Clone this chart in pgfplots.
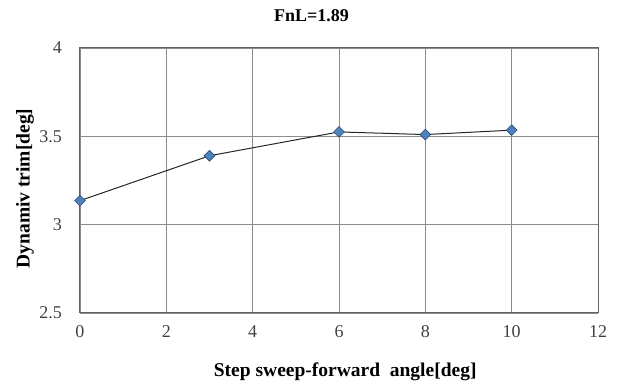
\documentclass[border=0pt]{standalone}
\usepackage{pgfplots}
\pgfplotsset{compat=1.18}
\usepackage{fontspec}
\setmainfont{Liberation Serif}
\definecolor{mk}{HTML}{4F81BD}
\definecolor{mkd}{HTML}{2C4D75}
\definecolor{gridc}{HTML}{8C8C8C}
\definecolor{tickc}{HTML}{404040}
\begin{document}
\begin{tikzpicture}
\begin{axis}[
  scale only axis,
  width=518pt, height=265pt,
  xmin=0, xmax=12, ymin=2.5, ymax=4,
  xtick={0,2,...,12},
  ytick={2.5,3,3.5,4},
  yticklabels={2.5,3,3.5,4},
  grid=major,
  major grid style={gridc, line width=0.9pt},
  axis line style={gridc!70!black, line width=1pt},
  tick style={draw=none},
  /pgf/number format/assume math mode=true,
  ticklabel style={font=\fontsize{18}{20}\selectfont, text=tickc, inner sep=0pt},
  xticklabel style={anchor=center, yshift=-19pt},
  yticklabel style={anchor=east, xshift=-18pt},
  xlabel={\textbf{Step sweep-forward\ \ angle[deg]}},
  ylabel={\textbf{Dynamiv trim[deg]}},
  label style={font=\fontsize{19.5}{22}\selectfont},
  xlabel style={at={(axis description cs:0.512,-0.2226)}, anchor=center},
  ylabel style={at={(axis description cs:-0.106,0.47)}, anchor=center},
  clip=false,
]
\addplot[black!85, line width=1pt, mark=square*, mark size=3.8pt,
  mark options={fill=mk, draw=mkd, line width=0.6pt, rotate=45}]
  coordinates {(0,3.136) (3,3.39) (6,3.525) (8,3.51) (10,3.535)};
\node[font=\fontsize{18}{20}\selectfont\bfseries, anchor=center, inner sep=0pt]
  at (axis description cs:0.447,1.121) {FnL=1.89};
\end{axis}
\path[use as bounding box] (-80pt,-68pt) rectangle (549pt,313pt);
\end{tikzpicture}
\end{document}
